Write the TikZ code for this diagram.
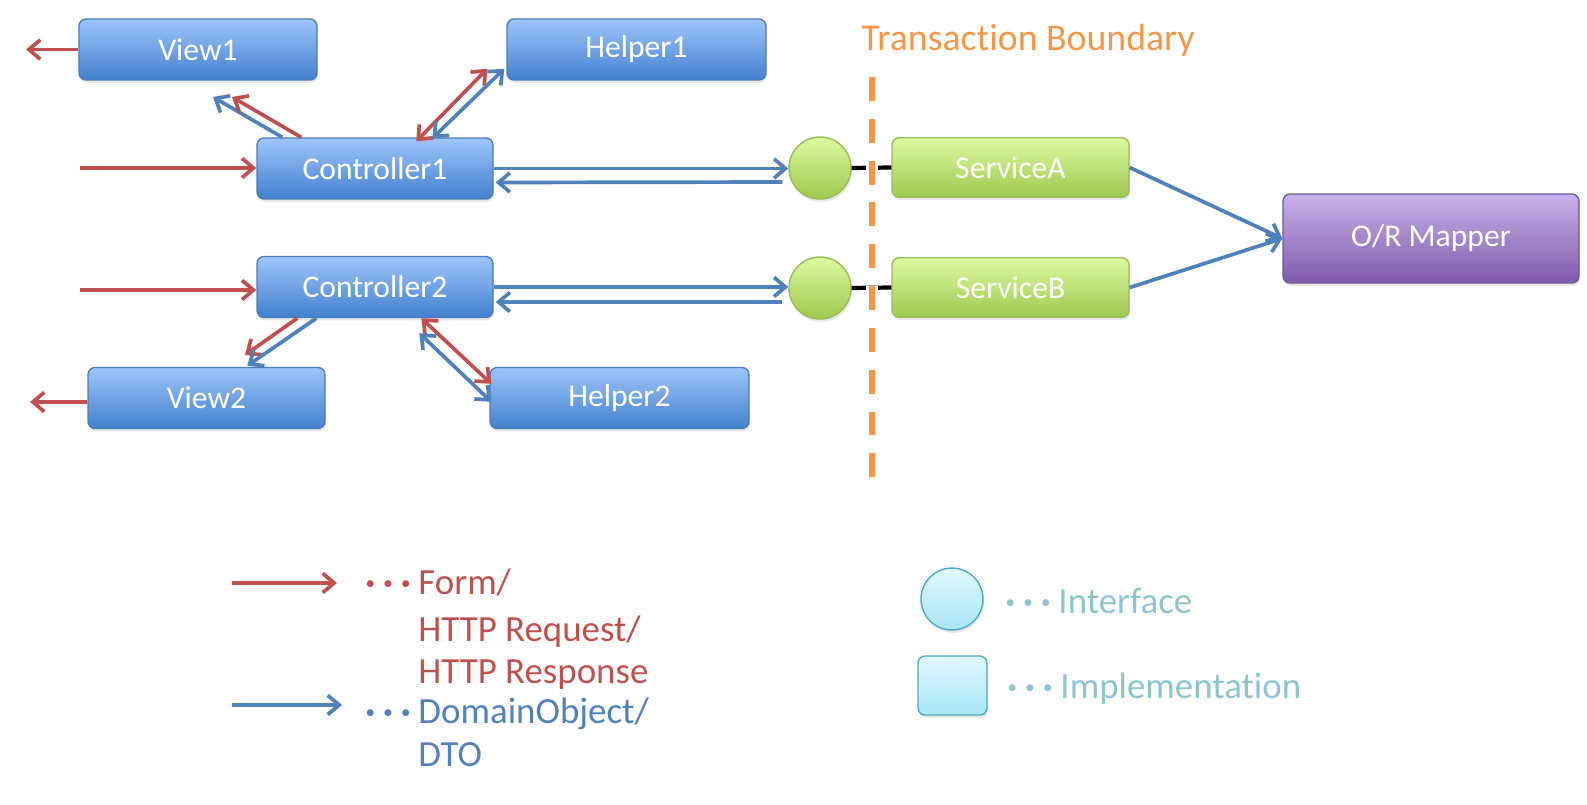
\documentclass[tikz,border=0pt]{standalone}
\usepackage{fontspec}
\setmainfont{Carlito}[Ligatures=NoCommon]
\usepackage{tikz}
\usetikzlibrary{arrows.meta,shadows,calc}

\definecolor{flowred}{RGB}{192,80,77}
\definecolor{flowblue}{RGB}{79,129,189}
\definecolor{boxbluetop}{RGB}{158,197,250}
\definecolor{boxbluebot}{RGB}{66,128,206}
\definecolor{boxblueline}{RGB}{74,126,187}
\definecolor{svcgreentop}{RGB}{220,250,160}
\definecolor{svcgreenbot}{RGB}{158,200,78}
\definecolor{svcgreenline}{RGB}{150,190,85}
\definecolor{mappurpletop}{RGB}{200,178,234}
\definecolor{mappurplebot}{RGB}{126,90,170}
\definecolor{mappurpleline}{RGB}{112,88,150}
\definecolor{legcyantop}{RGB}{224,248,254}
\definecolor{legcyanbot}{RGB}{168,230,248}
\definecolor{legcyanline}{RGB}{75,172,198}
\definecolor{tborange}{RGB}{247,150,70}
\definecolor{legteal}{RGB}{140,196,208}

\newcommand{\legdots}{\makebox[0.48em][l]{\bfseries ·}\makebox[0.48em][l]{\bfseries ·}\makebox[0.48em][l]{\bfseries ·}}

\begin{document}
\begin{tikzpicture}[x=0.02cm,y=-0.02cm,>={Straight Barb[length=6.5pt,width=11pt]}]
\tikzstyle{every node}+=[inner sep=0pt]
\tikzstyle{tierbox}=[draw, rounded corners=4pt, line width=0.8pt, minimum height=1.22cm, text=white, font=\fontsize{18}{21}\selectfont, drop shadow={shadow xshift=0.6pt,shadow yshift=-1.6pt,opacity=0.2}]
\tikzstyle{ctrlbox}=[tierbox, draw=boxblueline, top color=boxbluetop, bottom color=boxbluebot]
\tikzstyle{svcbox}=[tierbox, draw=svcgreenline, top color=svcgreentop, bottom color=svcgreenbot, minimum width=4.74cm, minimum height=1.19cm]
\tikzstyle{mapbox}=[tierbox, draw=mappurpleline, top color=mappurpletop, bottom color=mappurplebot, minimum width=5.92cm, minimum height=1.78cm]
\tikzstyle{ifcirc}=[circle, draw=svcgreenline, line width=0.8pt, top color=svcgreentop, bottom color=svcgreenbot, minimum size=1.24cm, drop shadow={shadow xshift=0.6pt,shadow yshift=-1.6pt,opacity=0.2}]
\tikzstyle{legcirc}=[ifcirc, draw=legcyanline, top color=legcyantop, bottom color=legcyanbot]
\tikzstyle{legbox}=[tierbox, draw=legcyanline, top color=legcyantop, bottom color=legcyanbot, minimum width=1.38cm, minimum height=1.18cm]
\tikzstyle{redflow}=[draw=flowred, line width=2.1pt, ->]
\tikzstyle{blueflow}=[draw=flowblue, line width=2.1pt, ->]
\tikzstyle{ifline}=[draw=black, line width=2.4pt]
\tikzstyle{tbline}=[draw=tborange, line width=3.2pt, dash pattern=on 13.6pt off 10.2pt, preaction={draw=white, line width=7pt, dash pattern=on 13.6pt off 10.2pt}]
\tikzstyle{legtext}=[anchor=base west, font=\fontsize{21}{25}\selectfont]
\useasboundingbox (0,0) rectangle (1587,805);

% presentation tier
\node[ctrlbox, minimum width=4.76cm] (view1) at (198,49.5) {View1};
\node[ctrlbox, minimum width=5.18cm] (helper1) at (636.5,49.5) {Helper1};
\node[ctrlbox, minimum width=4.72cm] (ctrl1) at (375,168.5) {Controller1};
\node[ctrlbox, minimum width=4.72cm] (ctrl2) at (375,287) {Controller2};
\node[ctrlbox, minimum width=4.74cm] (view2) at (206.5,398) {View2};
\node[ctrlbox, minimum width=5.18cm] (helper2) at (619.5,398) {Helper2};

% service tier
\node[ifcirc] (if1) at (820,168) {};
\node[ifcirc] (if2) at (820,288) {};
\node[svcbox] (svca) at (1010.5,167.5) {ServiceA};
\node[svcbox] (svcb) at (1010.5,287.5) {ServiceB};
\node[mapbox] (ormap) at (1431,238.5) {O/R Mapper};
\node[anchor=base west, text=tborange, font=\fontsize{21.5}{25}\selectfont] (tbtitle) at (861,50) {Transaction Boundary};

\coordinate (in1) at (80,168);
\coordinate (in2) at (80,290);
\coordinate (out1) at (26,49.5);
\coordinate (out2) at (30,402);
\coordinate (v1blue) at (213,97);
\coordinate (v1red) at (232,97);
\coordinate (v2red) at (245,355);
\coordinate (tbtop) at (872,77);
\coordinate (tbbot) at (872,479);

% requests and views
\draw[redflow] (in1) -- (in1 -| ctrl1.west);
\draw[redflow] (in2) -- (in2 -| ctrl2.west);
\draw[redflow] (view1.west) -- (out1);
\draw[redflow] (out2 -| view2.west) -- (out2);
\draw[blueflow] ($(ctrl1.north west)+(26,0)$) -- (v1blue);
\draw[redflow] ($(ctrl1.north west)+(45,0)$) -- (v1red);
\draw[redflow] ($(ctrl2.south west)+(41,0)$) -- (v2red);
\draw[blueflow] ($(ctrl2.south west)+(60,0)$) -- ($(view2.north west)+(160,-1)$);

% helpers
\draw[redflow, <->] ($(ctrl1.north west)+(160,4)$) -- ($(helper1.south west)+(-19,-12)$);
\draw[blueflow, <->] ($(ctrl1.north west)+(176,1)$) -- ($(helper1.south west)+(-2,-12)$);
\draw[redflow, <->] ($(ctrl2.south west)+(165,0)$) -- ($(helper2.north west)+(2,17)$);
\draw[blueflow, <->] ($(ctrl2.south west)+(163,15)$) -- ($(helper2.north west)+(2,35)$);

% controllers to services
\draw[blueflow] (ctrl1.east) -- (ctrl1.east -| if1.west);
\draw[blueflow] ($(if1.west)+(-6,14)$) -- ($(ctrl1.east)+(2,14)$);
\draw[blueflow] (ctrl2.east) -- (ctrl2.east -| if2.west);
\draw[blueflow] ($(if2.west)+(-6,14)$) -- ($(ctrl2.east)+(2,15)$);
\draw[ifline] (if1.east) -- (svca.west);
\draw[ifline] (if2.east) -- (svcb.west);
\draw[blueflow] (svca.east) -- (ormap.west);
\draw[blueflow] (svcb.east) -- (ormap.west);
\draw[tbline] (tbtop) -- (tbbot);

% legend
\coordinate (lgred1) at (232,583);
\coordinate (lgred2) at (337,583);
\coordinate (lgblue1) at (232,705);
\coordinate (lgblue2) at (342,705);
\draw[redflow] (lgred1) -- (lgred2);
\draw[blueflow] (lgblue1) -- (lgblue2);
\node[legtext, text=flowred] (formlbl) at (365,594) {\legdots Form/};
\node[legtext, text=flowred] (reqlbl) at (418,641) {HTTP Request/};
\node[legtext, text=flowred] (resplbl) at (418,683) {HTTP Response};
\node[legtext, text=flowblue] (domlbl) at (365,723) {\legdots DomainObject/};
\node[legtext, text=flowblue] (dtolbl) at (418,766) {DTO};
\node[legcirc] (legif) at (952,599) {};
\node[legbox] (legimpl) at (952.5,685.5) {};
\node[legtext, text=legteal] (iflbl) at (1005,613) {\legdots Interface};
\node[legtext, text=legteal] (impllbl) at (1007,698) {\legdots Implementation};
\end{tikzpicture}
\end{document}
